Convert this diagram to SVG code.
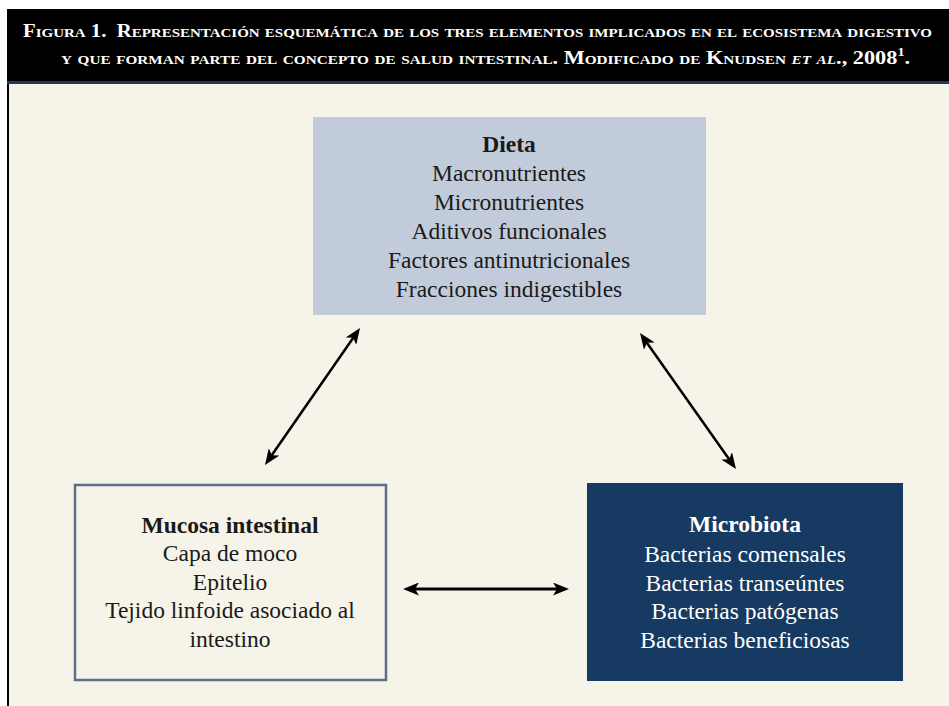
<svg xmlns="http://www.w3.org/2000/svg" width="949" height="706" viewBox="0 0 949 706">
  <defs>
    <style>
      .body { font-family: "Liberation Serif", "Times New Roman", serif; font-size: 23.5px; text-anchor: middle; }
      .title { font-weight: bold; }
      .dark { fill: #1a1a1a; }
      .light { fill: #ffffff; }
      .hdr { font-family: "Liberation Serif", "Times New Roman", serif; font-variant: small-caps; fill: #ffffff; font-weight: bold; }
      .conn { stroke: #000000; fill: none; marker-start: url(#head); marker-end: url(#head); }
    </style>
    <marker id="head" viewBox="0 -6.5 16 13" refX="6" refY="0" markerWidth="16" markerHeight="13" markerUnits="userSpaceOnUse" orient="auto-start-reverse">
      <path d="M0,-6.5 L16,0 L0,6.5 L4,0 Z" fill="#000000"/>
    </marker>
  </defs>

  <rect x="0" y="0" width="949" height="706" fill="#ffffff"/>
  <rect x="8" y="84" width="941" height="622" fill="#f6f4e8"/>
  <line x1="8" y1="84" x2="8" y2="706" stroke="#000000" stroke-width="2"/>

  <g id="header">
    <rect x="7" y="9" width="942" height="73" fill="#000000"/>
    <rect x="7" y="81" width="942" height="3" fill="#1e3a56"/>
    <text class="hdr" x="23" y="37" font-size="18" textLength="909" lengthAdjust="spacingAndGlyphs">Figura 1.&#160; Representación esquemática de los tres elementos implicados en el ecosistema digestivo</text>
    <text class="hdr" x="61" y="64" font-size="19" textLength="849" lengthAdjust="spacingAndGlyphs">y que forman parte del concepto de salud intestinal. Modificado de Knudsen <tspan font-style="italic">et al</tspan>., 2008<tspan font-size="12" dy="-8">1</tspan><tspan dy="8">.</tspan></text>
  </g>

  <g id="dieta">
    <rect x="313" y="117" width="393" height="198" fill="#c2cbd9"/>
    <text class="body dark title" x="509" y="152">Dieta</text>
    <text class="body dark" x="509" y="181">Macronutrientes</text>
    <text class="body dark" x="509" y="210">Micronutrientes</text>
    <text class="body dark" x="509" y="239">Aditivos funcionales</text>
    <text class="body dark" x="509" y="268">Factores antinutricionales</text>
    <text class="body dark" x="509" y="297">Fracciones indigestibles</text>
  </g>

  <g id="mucosa">
    <rect x="75" y="485" width="311" height="195" fill="#f6f4e8" stroke="#5b6f88" stroke-width="2.5"/>
    <text class="body dark title" x="230" y="533">Mucosa intestinal</text>
    <text class="body dark" x="230" y="561">Capa de moco</text>
    <text class="body dark" x="230" y="590">Epitelio</text>
    <text class="body dark" x="230" y="618">Tejido linfoide asociado al</text>
    <text class="body dark" x="230" y="647">intestino</text>
  </g>

  <g id="microbiota">
    <rect x="587" y="483" width="316" height="198" fill="#163a61"/>
    <text class="body light title" x="745" y="532">Microbiota</text>
    <text class="body light" x="745" y="562">Bacterias comensales</text>
    <text class="body light" x="745" y="591">Bacterias transeúntes</text>
    <text class="body light" x="745" y="619">Bacterias patógenas</text>
    <text class="body light" x="745" y="648">Bacterias beneficiosas</text>
  </g>

  <g id="connectors">
    <line class="conn" x1="270.7" y1="456.8" x2="354.3" y2="336.2" stroke-width="2.5"/>
    <line class="conn" x1="645.8" y1="341.2" x2="730.2" y2="460.8" stroke-width="2.5"/>
    <line class="conn" x1="413" y1="589" x2="559" y2="589" stroke-width="3"/>
  </g>
</svg>
